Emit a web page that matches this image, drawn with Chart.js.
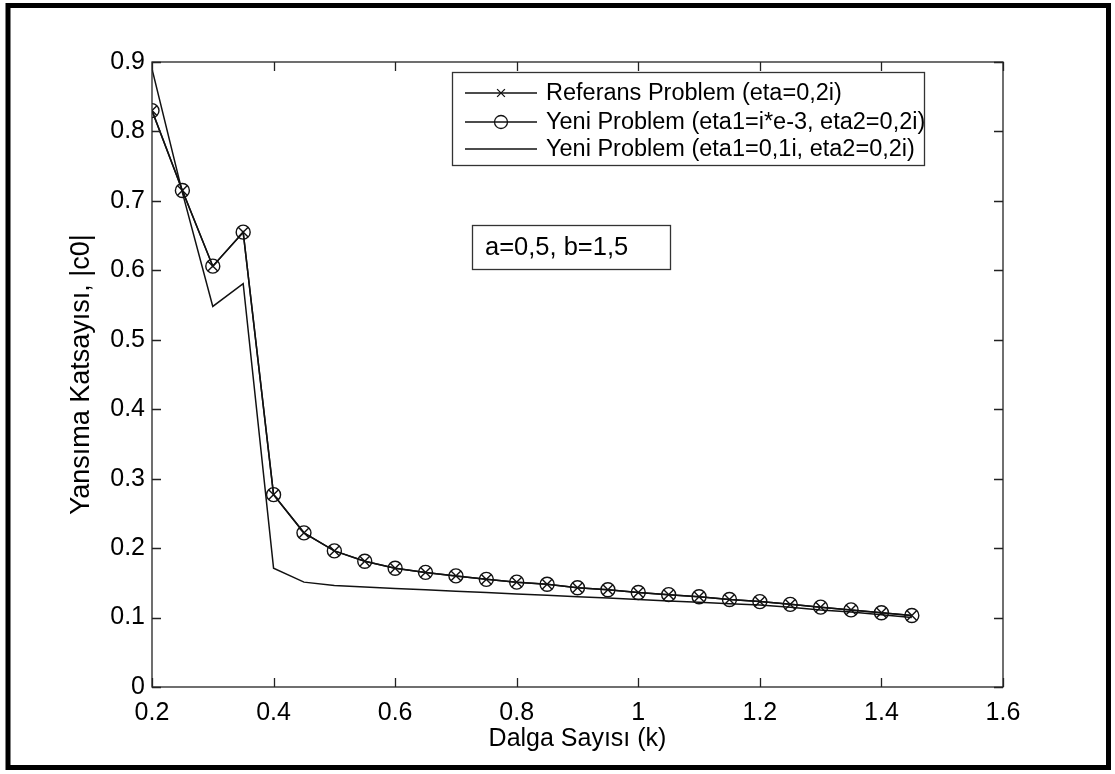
<!DOCTYPE html>
<html>
<head>
<meta charset="utf-8">
<script src="https://cdn.jsdelivr.net/npm/chart.js@4.4.1/dist/chart.umd.min.js"></script>
<style>
html,body{margin:0;padding:0;background:#fff;}
#wrap{width:1115px;height:774px;position:relative;}
</style>
</head>
<body>
<div id="wrap"><canvas id="c" width="1115" height="774"></canvas></div>
<script>
// ---- data ----
const waveNumbers = [0.2,0.25,0.3,0.35,0.4,0.45,0.5,0.55,0.6,0.65,0.7,0.75,0.8,0.85,0.9,0.95,1.0,1.05,1.1,1.15,1.2,1.25,1.3,1.35,1.4,1.45];
const referenceValues = [0.830,0.715,0.606,0.655,0.277,0.222,0.196,0.181,0.171,0.165,0.160,0.155,0.151,0.148,0.143,0.140,0.136,0.133,0.130,0.126,0.123,0.119,0.115,0.111,0.107,0.103];
const newSmallEtaValues = [0.830,0.715,0.606,0.655,0.277,0.222,0.196,0.181,0.171,0.165,0.160,0.155,0.151,0.148,0.143,0.140,0.136,0.133,0.130,0.126,0.123,0.119,0.115,0.111,0.107,0.103];
const newEta01Values = [0.890,0.712,0.548,0.581,0.171,0.151,0.146,0.144,0.142,0.140,0.138,0.136,0.134,0.132,0.130,0.128,0.126,0.124,0.122,0.120,0.118,0.115,0.111,0.108,0.104,0.100];
const seriesLabels = ['Referans Problem (eta=0,2i)','Yeni Problem (eta1=i*e-3, eta2=0,2i)','Yeni Problem (eta1=0,1i, eta2=0,2i)'];
const xTickValues = [0.2,0.4,0.6,0.8,1.0,1.2,1.4,1.6];
const xTickLabels = ['0.2','0.4','0.6','0.8','1','1.2','1.4','1.6'];
const yTickValues = [0,0.1,0.2,0.3,0.4,0.5,0.6,0.7,0.8,0.9];
const yTickLabels = ['0','0.1','0.2','0.3','0.4','0.5','0.6','0.7','0.8','0.9'];
const xTitle = 'Dalga Sayısı (k)';
const yTitle = 'Yansıma Katsayısı, |c0|';
const annotationText = 'a=0,5, b=1,5';

const FONT = '"Liberation Sans", Arial, Helvetica, sans-serif';
const INK = '#111';

function pts(vals){ return waveNumbers.map((x,i)=>({x:x, y:vals[i]})); }

const framePlugin = {
  id:'frame',
  beforeDraw(chart){
    const ctx = chart.ctx;
    ctx.save();
    ctx.fillStyle = '#fff';
    ctx.fillRect(0,0,chart.width,chart.height);
    ctx.restore();
  },
  afterDatasetsDraw(chart){
    const ctx = chart.ctx, a = chart.chartArea;
    const xs = chart.scales.x, ys = chart.scales.y;
    ctx.save();
    ctx.strokeStyle = '#222';
    ctx.lineWidth = 1.3;
    ctx.strokeRect(a.left, a.top, a.right-a.left, a.bottom-a.top);
    const tl = 9;
    ctx.beginPath();
    xs.ticks.forEach(t=>{
      const px = Math.round(xs.getPixelForValue(t.value))+0.5;
      ctx.moveTo(px, a.bottom); ctx.lineTo(px, a.bottom-tl);
      ctx.moveTo(px, a.top); ctx.lineTo(px, a.top+tl);
    });
    ys.ticks.forEach(t=>{
      const py = Math.round(ys.getPixelForValue(t.value))+0.5;
      ctx.moveTo(a.left, py); ctx.lineTo(a.left+tl, py);
      ctx.moveTo(a.right, py); ctx.lineTo(a.right-tl, py);
    });
    ctx.stroke();

    // legend box
    const lx = 452, ly = 72, lw = 472, lh = 93;
    ctx.fillStyle = '#fff';
    ctx.fillRect(lx, ly, lw, lh);
    ctx.strokeStyle = '#333';
    ctx.lineWidth = 1.3;
    ctx.strokeRect(lx+0.5, ly+0.5, lw, lh);
    const rowsY = [93, 122, 149];
    ctx.textBaseline = 'middle';
    chart.data.datasets.forEach((ds,i)=>{
      const y = rowsY[i];
      ctx.strokeStyle = INK;
      ctx.lineWidth = 1.3;
      ctx.beginPath(); ctx.moveTo(465,y); ctx.lineTo(537,y); ctx.stroke();
      if (ds.pointRadius > 0){
        ctx.fillStyle = 'rgba(0,0,0,0)';
        Chart.helpers.drawPoint(ctx, {pointStyle: ds.pointStyle, radius: ds.pointStyle==='circle'?6.5:5.5, borderWidth:1.3}, 501, y);
      }
      ctx.fillStyle = '#000';
      ctx.font = '23.5px ' + FONT;
      ctx.fillText(ds.label, 546, y+1);
    });

    // annotation box
    ctx.fillStyle = '#fff';
    ctx.fillRect(472, 225, 198, 44);
    ctx.strokeStyle = '#333';
    ctx.lineWidth = 1.3;
    ctx.strokeRect(472.5, 225.5, 198, 44);
    ctx.fillStyle = '#000';
    ctx.font = '25.5px ' + FONT;
    ctx.fillText(annotationText, 485, 248);
    ctx.restore();
  },
  afterDraw(chart){
    const ctx = chart.ctx;
    ctx.save();
    ctx.strokeStyle = '#000';
    ctx.lineWidth = 5;
    ctx.strokeRect(8, 5.5, 1100.5, 762);
    ctx.restore();
  }
};

const common = {borderColor: INK, pointBorderColor: INK, pointBackgroundColor:'rgba(0,0,0,0)', borderWidth:1.5, pointBorderWidth:1.4, fill:false, tension:0};

new Chart(document.getElementById('c'), {
  type:'line',
  data:{
    datasets:[
      Object.assign({label: seriesLabels[0], data: pts(referenceValues), pointStyle:'crossRot', pointRadius:7}, common),
      Object.assign({label: seriesLabels[1], data: pts(newSmallEtaValues), pointStyle:'circle', pointRadius:7}, common),
      Object.assign({label: seriesLabels[2], data: pts(newEta01Values), pointRadius:0}, common)
    ]
  },
  options:{
    responsive:false,
    animation:false,
    devicePixelRatio:1,
    layout:{padding:{top:62, right:112, left:0, bottom:0}},
    plugins:{legend:{display:false}, tooltip:{enabled:false}},
    scales:{
      x:{
        type:'linear', min:0.2, max:1.6,
        afterBuildTicks(s){ s.ticks = xTickValues.map(v=>({value:v})); },
        afterFit(s){ s.height = 87; },
        grid:{display:false, drawTicks:false},
        border:{display:false},
        ticks:{autoSkip:false, maxRotation:0, color:'#000', padding:11, font:{family:FONT, size:25},
          callback:(v,i)=>xTickLabels[i]},
        title:{display:true, text:xTitle, color:'#000', font:{family:FONT, size:25}, padding:{top:0,bottom:20}}
      },
      y:{
        type:'linear', min:0, max:0.9,
        afterBuildTicks(s){ s.ticks = yTickValues.map(v=>({value:v})); },
        afterFit(s){ s.width = 152; },
        grid:{display:false, drawTicks:false},
        border:{display:false},
        ticks:{autoSkip:false, color:'#000', padding:7, font:{family:FONT, size:25},
          callback:(v,i)=>yTickLabels[i]},
        title:{display:true, text:yTitle, color:'#000', font:{family:FONT, size:27}, padding:{top:65,bottom:0}}
      }
    }
  },
  plugins:[framePlugin]
});
</script>
</body>
</html>
